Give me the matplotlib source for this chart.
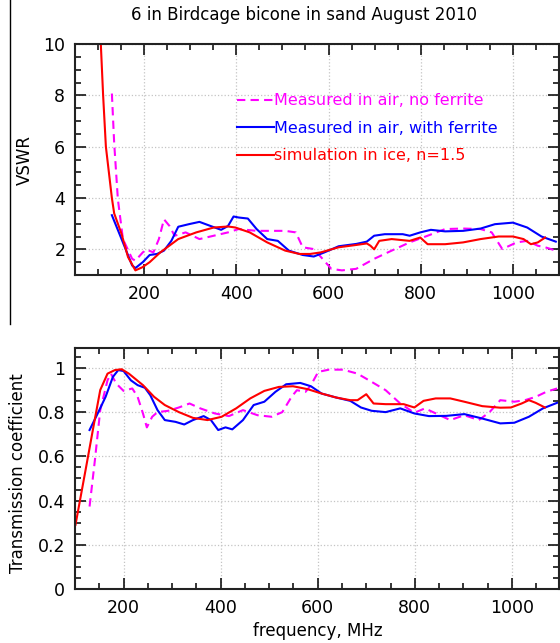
import numpy as np
import matplotlib
matplotlib.use('Agg')
import matplotlib.pyplot as plt
from matplotlib.lines import Line2D
from matplotlib.ticker import MultipleLocator

# VSWR panel (frequency in MHz)
f_sim_top = [106, 111, 117, 130, 135, 151, 165, 181, 196, 212, 235, 274, 313, 351, 382, 398,
             429, 467, 506, 537, 560, 583, 622, 660, 683, 691, 699, 710, 737, 776, 799, 815,
             853, 892, 930, 969, 1000, 1023, 1039, 1054, 1070]
v_sim_top = [10.0, 8.0, 6.0, 4.0, 3.4, 2.6, 1.7, 1.18, 1.3, 1.5, 1.88, 2.4, 2.66, 2.85, 2.89, 2.85,
             2.66, 2.27, 1.95, 1.82, 1.82, 1.88, 2.08, 2.17, 2.23, 2.14, 2.0, 2.33, 2.4, 2.33, 2.46, 2.2,
             2.2, 2.27, 2.4, 2.5, 2.5, 2.4, 2.2, 2.27, 2.46]

f_fer_top = [130, 151, 174, 181, 197, 212, 228, 243, 259, 274, 297, 320, 344, 367, 382, 394,
             405, 425, 444, 467, 490, 514, 544, 568, 591, 622, 660, 683, 699, 722, 761, 776,
             799, 822, 853, 892, 930, 961, 1000, 1031, 1062, 1093]
v_fer_top = [3.33, 2.4, 1.37, 1.27, 1.5, 1.78, 1.82, 1.95, 2.33, 2.88, 2.98, 3.07, 2.91, 2.76, 2.91, 3.28,
             3.24, 3.2, 2.79, 2.4, 2.33, 1.95, 1.78, 1.72, 1.88, 2.12, 2.21, 2.3, 2.53, 2.59, 2.59, 2.53,
             2.66, 2.76, 2.7, 2.72, 2.81, 2.98, 3.04, 2.85, 2.5, 2.3]

f_nof_top = [130, 135, 143, 154, 174, 181, 197, 205, 220, 232, 243, 255, 266, 290, 320, 351,
             382, 405, 444, 483, 506, 529, 544, 568, 587, 606, 629, 660, 699, 737, 776, 815,
             853, 892, 930, 954, 977, 1008, 1031, 1054, 1070, 1093]
v_nof_top = [8.07, 6.14, 3.95, 2.4, 1.63, 1.56, 1.88, 1.99, 1.88, 2.4, 3.17, 2.91, 2.53, 2.66, 2.4, 2.53,
             2.66, 2.79, 2.72, 2.72, 2.72, 2.66, 2.08, 2.01, 1.63, 1.24, 1.18, 1.24, 1.63, 1.95, 2.27, 2.53,
             2.79, 2.81, 2.79, 2.66, 2.01, 2.27, 2.33, 2.14, 2.08, 1.95]

# transmission coefficient panel
f_sim_bot = [101, 123, 138, 152, 167, 182, 196, 211, 240, 263, 285, 314, 343, 373, 402, 432,
             461, 490, 520, 549, 579, 608, 638, 667, 682, 700, 715, 740, 777, 799, 818, 843,
             873, 902, 939, 976, 998, 1020, 1035, 1049, 1068]
t_sim_bot = [0.29, 0.553, 0.734, 0.9, 0.974, 0.99, 0.994, 0.974, 0.922, 0.869, 0.832, 0.80, 0.774, 0.764, 0.779, 0.817,
             0.862, 0.896, 0.914, 0.917, 0.904, 0.884, 0.866, 0.854, 0.854, 0.881, 0.839, 0.836, 0.836, 0.821, 0.851, 0.862,
             0.862, 0.847, 0.827, 0.82, 0.821, 0.839, 0.854, 0.842, 0.821]

f_fer_bot = [130, 145, 163, 178, 189, 200, 215, 229, 244, 255, 270, 285, 307, 325, 343, 365,
             380, 395, 410, 424, 446, 468, 490, 513, 535, 564, 586, 608, 638, 667, 689, 711,
             740, 770, 799, 829, 865, 902, 939, 976, 1005, 1035, 1064, 1093]
t_fer_bot = [0.719, 0.786, 0.869, 0.959, 0.99, 0.986, 0.944, 0.922, 0.91, 0.877, 0.809, 0.764, 0.756, 0.744, 0.764, 0.782,
             0.764, 0.719, 0.731, 0.722, 0.764, 0.832, 0.847, 0.892, 0.926, 0.932, 0.917, 0.884, 0.866, 0.851, 0.821, 0.806,
             0.80, 0.817, 0.794, 0.782, 0.783, 0.791, 0.771, 0.749, 0.752, 0.779, 0.817, 0.842]

f_nof_bot = [130, 141, 152, 167, 174, 185, 200, 218, 229, 240, 248, 259, 270, 292, 314, 336,
             358, 388, 417, 446, 476, 505, 527, 546, 557, 575, 586, 601, 623, 652, 682, 711,
             740, 770, 799, 821, 851, 873, 902, 932, 954, 976, 1005, 1027, 1049, 1071, 1093]
t_nof_bot = [0.373, 0.583, 0.809, 0.944, 0.974, 0.929, 0.896, 0.907, 0.869, 0.794, 0.731, 0.779, 0.80, 0.806, 0.821, 0.839,
             0.817, 0.794, 0.782, 0.809, 0.786, 0.779, 0.80, 0.869, 0.899, 0.892, 0.922, 0.982, 0.992, 0.992, 0.974, 0.937,
             0.899, 0.839, 0.797, 0.817, 0.786, 0.764, 0.786, 0.764, 0.80, 0.854, 0.847, 0.854, 0.869, 0.892, 0.907]

labels = ['Measured in air, no ferrite', 'Measured in air, with ferrite', 'simulation in ice, n=1.5']
MAG, BLU, RED = '#ff00ff', '#0000ff', '#ff0000'

W, H = 560, 643
fig = plt.figure(figsize=(W / 100, H / 100), dpi=100)

ax1 = fig.add_axes([75 / W, 1 - 275 / H, 484 / W, 231 / H])
ax2 = fig.add_axes([75 / W, 1 - 589 / H, 484 / W, 241 / H])

lw = 1.5
ax1.plot(f_nof_top, v_nof_top, color=MAG, lw=lw, dashes=(4, 2.5), label=labels[0])
ax1.plot(f_fer_top, v_fer_top, color=BLU, lw=lw, label=labels[1])
ax1.plot(f_sim_top, v_sim_top, color=RED, lw=lw, label=labels[2])

ax2.plot(f_nof_bot, t_nof_bot, color=MAG, lw=lw, dashes=(4, 2.5))
ax2.plot(f_fer_bot, t_fer_bot, color=BLU, lw=lw)
ax2.plot(f_sim_bot, t_sim_bot, color=RED, lw=lw)

ax1.set_xlim(50, 1100)
ax1.set_ylim(1, 10)
ax1.yaxis.set_major_locator(MultipleLocator(2))
ax1.yaxis.set_minor_locator(MultipleLocator(0.5))

ax2.set_xlim(100, 1097)
ax2.set_ylim(0, 1.09)
ax2.yaxis.set_minor_locator(MultipleLocator(0.05))
ax2.set_yticks([0, 0.2, 0.4, 0.6, 0.8, 1.0])
ax2.set_yticklabels(['0', '0.2', '0.4', '0.6', '0.8', '1'])

for ax in (ax1, ax2):
    ax.xaxis.set_major_locator(MultipleLocator(200))
    ax.xaxis.set_minor_locator(MultipleLocator(50))
    ax.tick_params(which='both', direction='in', top=True, right=True, labelsize=12.5, width=1.1)
    ax.tick_params(which='major', length=8, pad=7)
    ax.tick_params(which='minor', length=4.5)
    ax.grid(True, which='major', linestyle=':', color='#c4c4c4', lw=0.9)
    for s in ax.spines.values():
        s.set_linewidth(1.5)
        s.set_color('#222222')

ax1.legend(loc='center left', bbox_to_anchor=(0.318, 0.635), frameon=False, fontsize=11.5,
           labelcolor='linecolor', handlelength=2.3, handletextpad=0.0, labelspacing=0.78,
           borderpad=0)

fig.text(304 / W, 1 - 15 / H, '6 in Birdcage bicone in sand August 2010', ha='center', va='center', fontsize=12)
fig.text(25 / W, 1 - 160 / H, 'VSWR', rotation=90, ha='center', va='center', fontsize=12)
fig.text(18 / W, 1 - 473 / H, 'Transmission coefficient', rotation=90, ha='center', va='center', fontsize=12)
fig.text(318 / W, 1 - 631 / H, 'frequency, MHz', ha='center', va='center', fontsize=12)

fig.add_artist(Line2D([10 / W, 10 / W], [1, 1 - 324 / H], color='black', lw=1))

fig.savefig('out.png', dpi=100)
